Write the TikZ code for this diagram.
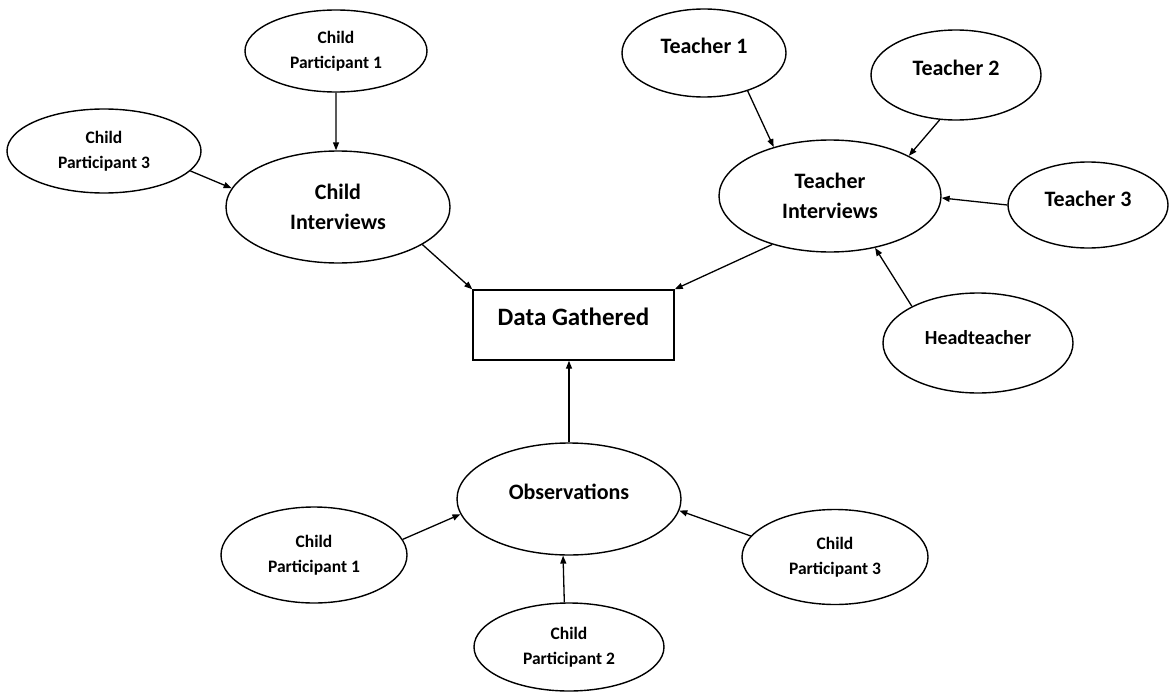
\documentclass[tikz,border=0pt]{standalone}
\usepackage{fontspec}
\setmainfont{Carlito}
\usetikzlibrary{shapes.geometric,arrows.meta}
\tikzset{
  ell/.style={draw, ellipse, line width=1.4pt, inner sep=0pt, outer sep=0.7pt, align=center},
  box/.style={draw, rectangle, line width=1.4pt, inner sep=0pt, outer sep=0.7pt, align=center},
  sm/.style={font=\fontsize{17.5}{25}\selectfont\bfseries},
  big/.style={font=\fontsize{22}{29.5}\selectfont\bfseries},
  head/.style={font=\fontsize{20}{26}\selectfont\bfseries},
  dat/.style={font=\fontsize{25}{30}\selectfont\bfseries},
  one/.style={text height=12pt, text depth=10pt},
  arr/.style={-{Triangle[length=8pt,width=6pt]}, line width=1.3pt},
}
\begin{document}
\begin{tikzpicture}[x=1pt,y=-1pt]
\useasboundingbox (0,0) rectangle (1170,693);
% Child interviews branch
\node[ell, sm, minimum width=182pt, minimum height=82pt] (cpA) at (336,51) {Child\\Participant 1};
\node[ell, sm, minimum width=194pt, minimum height=84pt] (cpC) at (104,151) {Child\\Participant 3};
\node[ell, big, minimum width=224pt, minimum height=112pt] (ci) at (338,207) {Child\\Interviews};
% central box
\node[box, dat, minimum width=201pt, minimum height=70pt, text height=12pt, text depth=12pt] (data) at (573.5,325) {Data Gathered};
% Teacher branch
\node[ell, big, one, minimum width=164pt, minimum height=88pt] (t1) at (704,53) {Teacher 1};
\node[ell, big, one, minimum width=170pt, minimum height=90pt] (t2) at (956,75) {Teacher 2};
\node[ell, big, minimum width=222pt, minimum height=112pt] (ti) at (830,196) {Teacher\\Interviews};
\node[ell, big, one, minimum width=160pt, minimum height=86pt] (t3) at (1088,205) {Teacher 3};
\node[ell, head, one, minimum width=190pt, minimum height=100pt] (ht) at (978,343) {Headteacher};
% Observations branch
\node[ell, big, minimum width=224pt, minimum height=112pt, text height=12pt, text depth=11pt] (obs) at (569,499) {Observations};
\node[ell, sm, minimum width=186pt, minimum height=96pt] (cpB1) at (314,555) {Child\\Participant 1};
\node[ell, sm, minimum width=190pt, minimum height=88pt] (cpB2) at (569,647) {Child\\Participant 2};
\node[ell, sm, minimum width=186pt, minimum height=95pt] (cpB3) at (835,557) {Child\\Participant 3};
% connectors
\draw[arr] (cpA.south) -- (ci.92);
\draw[arr] (cpC.-13.3) -- (ci.170.2);
\draw[arr] (ci.-24.9) -- (data.north west);
\draw[arr] (t1.-41.6) -- (ti.139.8);
\draw[arr] (t2.250.1) -- (ti.27.1);
\draw[arr] (t3.west) -- (ti.-1.5);
\draw[arr] (ht.151.8) -- (ti.-49.1);
\draw[arr] (ti.220.2) -- (data.north east);
\draw[arr] (obs.north) -- (obs.north |- data.south);
\draw[arr] (cpB1.10.8) -- (obs.188.5);
\draw[arr] (cpB2.96.5) -- (obs.264.9);
\draw[arr] (cpB3.166.5) -- (obs.-6.6);
\end{tikzpicture}
\end{document}
